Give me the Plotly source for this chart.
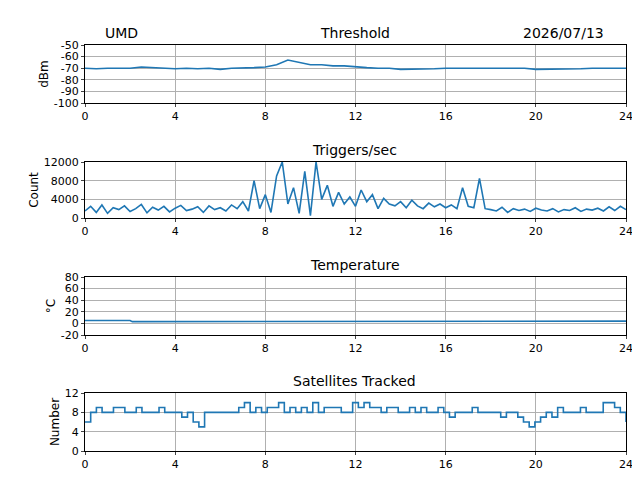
import numpy as np
import plotly.graph_objects as go

threshold = [-70, -70.5, -70, -70, -70, -69, -69.5, -70, -70.5, -70, -70.5, -70, -71, -70, -70,
             -69.5, -69, -67, -63, -65, -67, -67, -68, -68, -69, -69.5, -70, -70, -71, -71,
             -70.5, -70.5, -70, -70, -70, -70.5, -70, -70, -70.5, -70, -71, -71, -71, -70.5,
             -70.5, -70, -70, -70, -70]
triggers = [1500, 2500, 1200, 2800, 1000, 2200, 1800, 2600, 1400, 2000, 2900, 1100, 2300, 1700,
            2500, 1300, 2100, 2700, 1600, 1900, 2400, 1200, 2600, 1800, 2200, 1500, 2800, 2000,
            3500, 1500, 8000, 2000, 5000, 1200, 9000, 12000, 3000, 6500, 1000, 10000, 500, 12000,
            4000, 7000, 2500, 5500, 3000, 4500,
            2500, 6000, 3500, 5000, 2000, 4200, 3000, 2600, 3500, 2200, 3800, 2600, 2000, 3200,
            2400, 3000, 2200, 2800, 2000, 6500, 2500, 2200, 8500, 2000,
            1800, 1500, 2300, 1200, 2000, 1600, 1900, 1400, 2100, 1700, 1500, 2000, 1300, 1800,
            1600, 2200, 1400, 1900, 1700, 2100, 1500, 2400, 1600, 2500, 1800]
temp_hours = [0, 2, 2.1, 14, 14.1, 24]
temperature = [5, 5, 3, 3, 4, 4]
satellites = [6, 8, 9, 8, 8, 9, 9, 8, 8, 9, 8, 8, 8, 9, 8, 8, 8, 7, 8, 6, 5, 8, 8, 8, 8, 8, 8, 9,
              10, 8, 9, 8, 9, 9, 10, 8, 9, 8, 9, 8, 10, 8, 9, 9, 9, 8, 8, 10, 9, 10, 9, 9, 8, 9,
              9, 8, 8, 9, 8, 9, 8, 8, 9, 8, 7, 8, 8, 8, 9, 8, 8, 8, 8, 7, 8, 8, 7, 6, 5, 6, 7, 8,
              7, 9, 8, 8, 8, 9, 8, 8, 8, 10, 10, 9, 8, 6]

blue = "#1f77b4"
fig = go.Figure()

def ypos(px):
    return 1 - px / 480

panels = [
    ("Threshold", "dBm", [-100, -50], list(range(-100, -49, 10)), 37, 95),
    ("Triggers/sec", "Count", [0, 12000], [0, 4000, 8000, 12000], 154, 210),
    ("Temperature", "°C", [-20, 80], list(range(-20, 81, 20)), 269, 327),
    ("Satellites Tracked", "Number", [0, 12], [0, 4, 8, 12], 385, 443),
]
series = [
    (np.linspace(0, 24, len(threshold)), threshold, "linear"),
    (np.linspace(0, 24, len(triggers)), triggers, "linear"),
    (temp_hours, temperature, "linear"),
    (np.linspace(0, 24, len(satellites)), satellites, "hv"),
]

for i, ((title, ylab, yr, yt, top, bot), (x, y, shape)) in enumerate(zip(panels, series), 1):
    sfx = "" if i == 1 else str(i)
    fig.add_trace(go.Scatter(x=x, y=y, mode="lines", line=dict(color=blue, width=1.6, shape=shape),
                             xaxis="x" + sfx, yaxis="y" + sfx, showlegend=False))
    ax = dict(showline=True, linecolor="black", mirror=True, ticks="outside", ticklen=3,
              showgrid=True, automargin=False,
              gridcolor="#b0b0b0", zeroline=False, tickfont=dict(size=11, color="black"))
    fig.update_layout({
        "xaxis" + sfx: dict(ax, domain=[77 / 640, 618 / 640], range=[0, 24],
                            tickvals=[0, 4, 8, 12, 16, 20, 24], anchor="y" + sfx),
        "yaxis" + sfx: dict(ax, domain=[ypos(bot), ypos(top)], range=yr, tickvals=yt,
                            ticktext=[str(v) for v in yt], anchor="x" + sfx,
                            title=dict(text=ylab, font=dict(size=12, color="black"), standoff=2)),
    })
    fig.add_annotation(text=title, x=0.542, y=ypos(top) + 0.004, xref="paper", yref="paper",
                       xanchor="center", yanchor="bottom", showarrow=False,
                       font=dict(size=14, color="black"))

fig.add_annotation(text="UMD", x=113 / 640, y=ypos(37) + 0.004, xref="paper", yref="paper",
                   xanchor="center", yanchor="bottom", showarrow=False, font=dict(size=14, color="black"))
fig.add_annotation(text="2026/07/13", x=555 / 640, y=ypos(37) + 0.004, xref="paper", yref="paper",
                   xanchor="center", yanchor="bottom", showarrow=False, font=dict(size=14, color="black"))

fig.update_layout(width=640, height=480, margin=dict(l=0, r=0, t=0, b=0),
                  plot_bgcolor="white", paper_bgcolor="white",
                  font=dict(family="DejaVu Sans", color="black"))
fig.write_html("out.html")
